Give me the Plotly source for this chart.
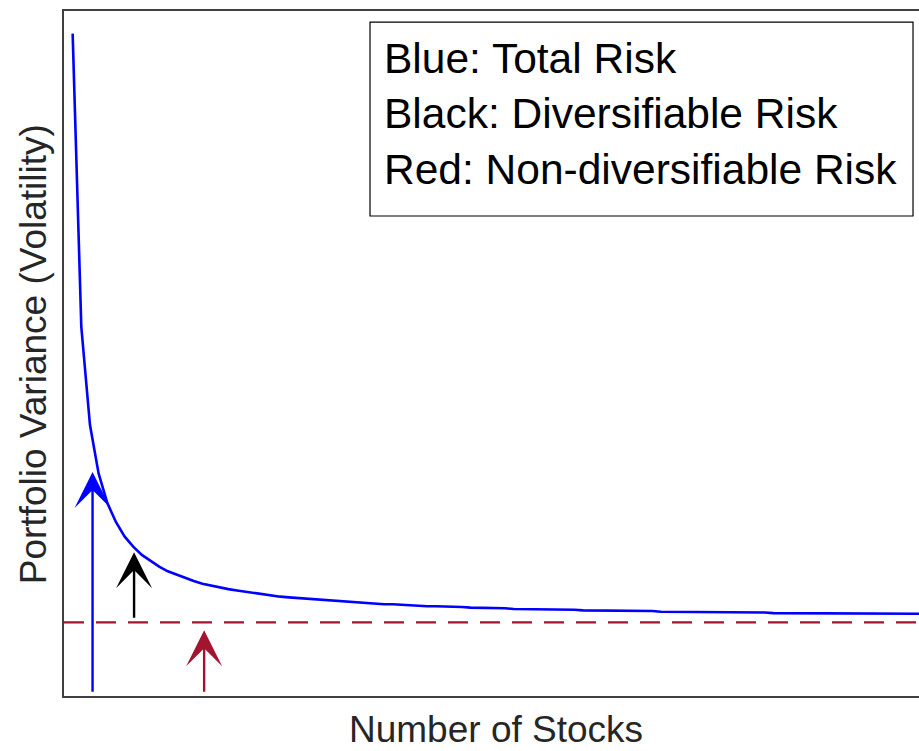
import plotly.graph_objects as go

# ---- data ----
stocks = list(range(1, 101))
total_risk = [
    0.967, 0.539, 0.396, 0.325, 0.282, 0.254, 0.233, 0.218, 0.206, 0.197,
    0.189, 0.182, 0.177, 0.172, 0.168, 0.164, 0.161, 0.159, 0.156, 0.154,
    0.152, 0.150, 0.148, 0.147, 0.145, 0.144, 0.143, 0.142, 0.141, 0.140,
    0.139, 0.138, 0.137, 0.136, 0.136, 0.135, 0.134, 0.134, 0.133, 0.132,
    0.132, 0.131, 0.131, 0.131, 0.130, 0.130, 0.129, 0.129, 0.129, 0.128,
    0.128, 0.127, 0.127, 0.127, 0.127, 0.126, 0.126, 0.126, 0.126, 0.125,
    0.125, 0.125, 0.125, 0.124, 0.124, 0.124, 0.124, 0.124, 0.123, 0.123,
    0.123, 0.123, 0.123, 0.123, 0.122, 0.122, 0.122, 0.122, 0.122, 0.122,
    0.122, 0.121, 0.121, 0.121, 0.121, 0.121, 0.121, 0.121, 0.121, 0.121,
    0.120, 0.120, 0.120, 0.120, 0.120, 0.120, 0.120, 0.120, 0.120, 0.120,
]
market_risk = 0.1076          # non-diversifiable level (dashed line)

# arrows: (x, y_tail, y_tip)
blue_arrow = (3.3, 0.004, 0.327)
black_arrow = (8.1, 0.112, 0.210)
red_arrow = (16.2, 0.004, 0.096)

legend_lines = ["Blue: Total Risk", "Black: Diversifiable Risk", "Red: Non-diversifiable Risk"]

BLUE = "#0000FF"
RED = "#A2142F"
BLACK = "#000000"
FONT = "Liberation Sans, Arial, Helvetica, sans-serif"

fig = go.Figure()

fig.add_trace(go.Scatter(
    x=[0, 100], y=[market_risk, market_risk], mode="lines",
    line=dict(color=RED, width=2.3, dash="20px,12px"), hoverinfo="skip", showlegend=False))

fig.add_trace(go.Scatter(
    x=stocks, y=total_risk, mode="lines",
    line=dict(color=BLUE, width=2.6), hoverinfo="skip", showlegend=False))

annotations = []
for (ax_x, y0, y1), col in [(blue_arrow, BLUE), (black_arrow, BLACK), (red_arrow, RED)]:
    annotations.append(dict(
        x=ax_x, y=y1, ax=ax_x, ay=y0, xref="x", yref="y", axref="x", ayref="y",
        text="", showarrow=True, arrowhead=3, arrowsize=2.5, arrowwidth=2.4,
        arrowcolor=col, standoff=0))

annotations.append(dict(
    x=0.3719, y=0.850, xref="paper", yref="paper", xanchor="left", yanchor="middle",
    align="left", showarrow=False, text="<br>".join(legend_lines),
    font=dict(family=FONT, size=42.5, color="#000000")))

annotations.append(dict(
    x=0.5058, y=-0.049, xref="paper", yref="paper", xanchor="center", yanchor="middle",
    showarrow=False, text="Number of Stocks",
    font=dict(family=FONT, size=37, color="#262626")))

annotations.append(dict(
    x=-0.0363, y=0.499, xref="paper", yref="paper", xanchor="center", yanchor="middle",
    showarrow=False, text="Portfolio Variance (Volatility)", textangle=-90,
    font=dict(family=FONT, size=37, color="#262626")))

fig.update_layout(
    width=919, height=751,
    margin=dict(l=64, r=0, t=11, b=55),
    paper_bgcolor="white", plot_bgcolor="white",
    showlegend=False,
    annotations=annotations,
    shapes=[dict(type="rect", xref="paper", yref="paper",
                 x0=0.3579, x1=0.9930, y0=0.7007, y1=0.9839,
                 line=dict(color="#000000", width=1.2), fillcolor="white", layer="below")],
    xaxis=dict(range=[0, 98.84], showgrid=False, zeroline=False, showticklabels=False,
               ticks="", showline=True, mirror=True, linecolor="#404040", linewidth=1.5),
    yaxis=dict(range=[0, 1], showgrid=False, zeroline=False, showticklabels=False,
               ticks="", showline=True, linecolor="#404040", linewidth=1.5),
)

# remove the browser's default 8px page margin so the figure fills the window exactly
fig.write_html("out.html", config={"displayModeBar": False},
               post_script="document.body.style.margin='0';document.body.style.overflow='hidden';")
